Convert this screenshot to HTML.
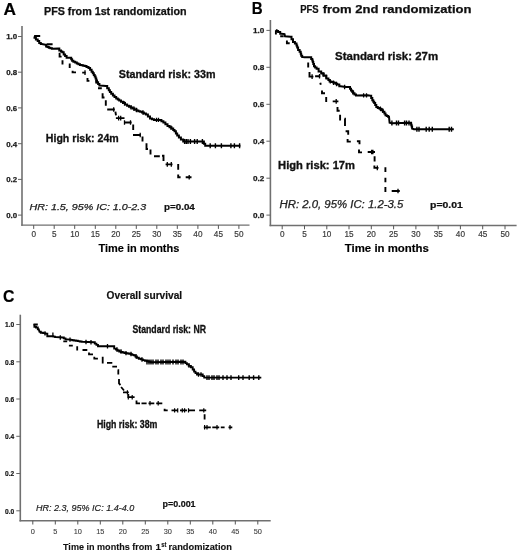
<!DOCTYPE html>
<html><head><meta charset="utf-8"><style>
html,body{margin:0;padding:0;background:#fff;}
svg{display:block;font-family:"Liberation Sans",sans-serif;will-change:transform;}
</style></head><body>
<svg width="520" height="554" viewBox="0 0 520 554">
<rect width="520" height="554" fill="#fff"/>
<line x1="22" y1="26" x2="22" y2="225.8" stroke="#707070" stroke-width="1.6"/>
<line x1="21.2" y1="225.1" x2="249.5" y2="225.1" stroke="#707070" stroke-width="1.4"/>
<line x1="18" y1="36.5" x2="22" y2="36.5" stroke="#666" stroke-width="1.0"/>
<text x="17.2" y="39.4" font-size="8.0" font-weight="bold" fill="#1a1a1a" text-anchor="end" textLength="11" lengthAdjust="spacingAndGlyphs" stroke="#1a1a1a" stroke-width="0.25">1.0</text>
<line x1="18" y1="72.2" x2="22" y2="72.2" stroke="#666" stroke-width="1.0"/>
<text x="17.2" y="75.1" font-size="8.0" font-weight="bold" fill="#1a1a1a" text-anchor="end" textLength="11" lengthAdjust="spacingAndGlyphs" stroke="#1a1a1a" stroke-width="0.25">0.8</text>
<line x1="18" y1="107.9" x2="22" y2="107.9" stroke="#666" stroke-width="1.0"/>
<text x="17.2" y="110.8" font-size="8.0" font-weight="bold" fill="#1a1a1a" text-anchor="end" textLength="11" lengthAdjust="spacingAndGlyphs" stroke="#1a1a1a" stroke-width="0.25">0.6</text>
<line x1="18" y1="143.7" x2="22" y2="143.7" stroke="#666" stroke-width="1.0"/>
<text x="17.2" y="146.5" font-size="8.0" font-weight="bold" fill="#1a1a1a" text-anchor="end" textLength="11" lengthAdjust="spacingAndGlyphs" stroke="#1a1a1a" stroke-width="0.25">0.4</text>
<line x1="18" y1="179.4" x2="22" y2="179.4" stroke="#666" stroke-width="1.0"/>
<text x="17.2" y="182.3" font-size="8.0" font-weight="bold" fill="#1a1a1a" text-anchor="end" textLength="11" lengthAdjust="spacingAndGlyphs" stroke="#1a1a1a" stroke-width="0.25">0.2</text>
<line x1="18" y1="215.1" x2="22" y2="215.1" stroke="#666" stroke-width="1.0"/>
<text x="17.2" y="218" font-size="8.0" font-weight="bold" fill="#1a1a1a" text-anchor="end" textLength="11" lengthAdjust="spacingAndGlyphs" stroke="#1a1a1a" stroke-width="0.25">0.0</text>
<line x1="33.7" y1="225.1" x2="33.7" y2="228.9" stroke="#555" stroke-width="1.0"/>
<text x="33.7" y="237.4" font-size="8.2" font-weight="normal" fill="#3a3a3a" text-anchor="middle" stroke="#3a3a3a" stroke-width="0.18">0</text>
<line x1="54.2" y1="225.1" x2="54.2" y2="228.9" stroke="#555" stroke-width="1.0"/>
<text x="54.2" y="237.4" font-size="8.2" font-weight="normal" fill="#3a3a3a" text-anchor="middle" stroke="#3a3a3a" stroke-width="0.18">5</text>
<line x1="74.7" y1="225.1" x2="74.7" y2="228.9" stroke="#555" stroke-width="1.0"/>
<text x="74.7" y="237.4" font-size="8.2" font-weight="normal" fill="#3a3a3a" text-anchor="middle" stroke="#3a3a3a" stroke-width="0.18">10</text>
<line x1="95.3" y1="225.1" x2="95.3" y2="228.9" stroke="#555" stroke-width="1.0"/>
<text x="95.3" y="237.4" font-size="8.2" font-weight="normal" fill="#3a3a3a" text-anchor="middle" stroke="#3a3a3a" stroke-width="0.18">15</text>
<line x1="115.8" y1="225.1" x2="115.8" y2="228.9" stroke="#555" stroke-width="1.0"/>
<text x="115.8" y="237.4" font-size="8.2" font-weight="normal" fill="#3a3a3a" text-anchor="middle" stroke="#3a3a3a" stroke-width="0.18">20</text>
<line x1="136.3" y1="225.1" x2="136.3" y2="228.9" stroke="#555" stroke-width="1.0"/>
<text x="136.3" y="237.4" font-size="8.2" font-weight="normal" fill="#3a3a3a" text-anchor="middle" stroke="#3a3a3a" stroke-width="0.18">25</text>
<line x1="156.8" y1="225.1" x2="156.8" y2="228.9" stroke="#555" stroke-width="1.0"/>
<text x="156.8" y="237.4" font-size="8.2" font-weight="normal" fill="#3a3a3a" text-anchor="middle" stroke="#3a3a3a" stroke-width="0.18">30</text>
<line x1="177.3" y1="225.1" x2="177.3" y2="228.9" stroke="#555" stroke-width="1.0"/>
<text x="177.3" y="237.4" font-size="8.2" font-weight="normal" fill="#3a3a3a" text-anchor="middle" stroke="#3a3a3a" stroke-width="0.18">35</text>
<line x1="197.9" y1="225.1" x2="197.9" y2="228.9" stroke="#555" stroke-width="1.0"/>
<text x="197.9" y="237.4" font-size="8.2" font-weight="normal" fill="#3a3a3a" text-anchor="middle" stroke="#3a3a3a" stroke-width="0.18">40</text>
<line x1="218.4" y1="225.1" x2="218.4" y2="228.9" stroke="#555" stroke-width="1.0"/>
<text x="218.4" y="237.4" font-size="8.2" font-weight="normal" fill="#3a3a3a" text-anchor="middle" stroke="#3a3a3a" stroke-width="0.18">45</text>
<line x1="238.9" y1="225.1" x2="238.9" y2="228.9" stroke="#555" stroke-width="1.0"/>
<text x="238.9" y="237.4" font-size="8.2" font-weight="normal" fill="#3a3a3a" text-anchor="middle" stroke="#3a3a3a" stroke-width="0.18">50</text>
<line x1="270.4" y1="20" x2="270.4" y2="226.2" stroke="#707070" stroke-width="1.6"/>
<line x1="269.6" y1="225.5" x2="516.6" y2="225.5" stroke="#707070" stroke-width="1.4"/>
<line x1="266.4" y1="30.4" x2="270.4" y2="30.4" stroke="#666" stroke-width="1.0"/>
<text x="264.2" y="33.3" font-size="8.0" font-weight="bold" fill="#1a1a1a" text-anchor="end" textLength="11.3" lengthAdjust="spacingAndGlyphs" stroke="#1a1a1a" stroke-width="0.25">1.0</text>
<line x1="266.4" y1="67.3" x2="270.4" y2="67.3" stroke="#666" stroke-width="1.0"/>
<text x="264.2" y="70.2" font-size="8.0" font-weight="bold" fill="#1a1a1a" text-anchor="end" textLength="11.3" lengthAdjust="spacingAndGlyphs" stroke="#1a1a1a" stroke-width="0.25">0.8</text>
<line x1="266.4" y1="104.3" x2="270.4" y2="104.3" stroke="#666" stroke-width="1.0"/>
<text x="264.2" y="107.2" font-size="8.0" font-weight="bold" fill="#1a1a1a" text-anchor="end" textLength="11.3" lengthAdjust="spacingAndGlyphs" stroke="#1a1a1a" stroke-width="0.25">0.6</text>
<line x1="266.4" y1="141.2" x2="270.4" y2="141.2" stroke="#666" stroke-width="1.0"/>
<text x="264.2" y="144.1" font-size="8.0" font-weight="bold" fill="#1a1a1a" text-anchor="end" textLength="11.3" lengthAdjust="spacingAndGlyphs" stroke="#1a1a1a" stroke-width="0.25">0.4</text>
<line x1="266.4" y1="178.2" x2="270.4" y2="178.2" stroke="#666" stroke-width="1.0"/>
<text x="264.2" y="181" font-size="8.0" font-weight="bold" fill="#1a1a1a" text-anchor="end" textLength="11.3" lengthAdjust="spacingAndGlyphs" stroke="#1a1a1a" stroke-width="0.25">0.2</text>
<line x1="266.4" y1="215.1" x2="270.4" y2="215.1" stroke="#666" stroke-width="1.0"/>
<text x="264.2" y="218" font-size="8.0" font-weight="bold" fill="#1a1a1a" text-anchor="end" textLength="11.3" lengthAdjust="spacingAndGlyphs" stroke="#1a1a1a" stroke-width="0.25">0.0</text>
<line x1="282.2" y1="225.5" x2="282.2" y2="229.3" stroke="#555" stroke-width="1.0"/>
<text x="282.2" y="237.3" font-size="8.2" font-weight="normal" fill="#3a3a3a" text-anchor="middle" stroke="#3a3a3a" stroke-width="0.18">0</text>
<line x1="304.5" y1="225.5" x2="304.5" y2="229.3" stroke="#555" stroke-width="1.0"/>
<text x="304.5" y="237.3" font-size="8.2" font-weight="normal" fill="#3a3a3a" text-anchor="middle" stroke="#3a3a3a" stroke-width="0.18">5</text>
<line x1="326.8" y1="225.5" x2="326.8" y2="229.3" stroke="#555" stroke-width="1.0"/>
<text x="326.8" y="237.3" font-size="8.2" font-weight="normal" fill="#3a3a3a" text-anchor="middle" stroke="#3a3a3a" stroke-width="0.18">10</text>
<line x1="349" y1="225.5" x2="349" y2="229.3" stroke="#555" stroke-width="1.0"/>
<text x="349" y="237.3" font-size="8.2" font-weight="normal" fill="#3a3a3a" text-anchor="middle" stroke="#3a3a3a" stroke-width="0.18">15</text>
<line x1="371.3" y1="225.5" x2="371.3" y2="229.3" stroke="#555" stroke-width="1.0"/>
<text x="371.3" y="237.3" font-size="8.2" font-weight="normal" fill="#3a3a3a" text-anchor="middle" stroke="#3a3a3a" stroke-width="0.18">20</text>
<line x1="393.6" y1="225.5" x2="393.6" y2="229.3" stroke="#555" stroke-width="1.0"/>
<text x="393.6" y="237.3" font-size="8.2" font-weight="normal" fill="#3a3a3a" text-anchor="middle" stroke="#3a3a3a" stroke-width="0.18">25</text>
<line x1="415.9" y1="225.5" x2="415.9" y2="229.3" stroke="#555" stroke-width="1.0"/>
<text x="415.9" y="237.3" font-size="8.2" font-weight="normal" fill="#3a3a3a" text-anchor="middle" stroke="#3a3a3a" stroke-width="0.18">30</text>
<line x1="438.2" y1="225.5" x2="438.2" y2="229.3" stroke="#555" stroke-width="1.0"/>
<text x="438.2" y="237.3" font-size="8.2" font-weight="normal" fill="#3a3a3a" text-anchor="middle" stroke="#3a3a3a" stroke-width="0.18">35</text>
<line x1="460.4" y1="225.5" x2="460.4" y2="229.3" stroke="#555" stroke-width="1.0"/>
<text x="460.4" y="237.3" font-size="8.2" font-weight="normal" fill="#3a3a3a" text-anchor="middle" stroke="#3a3a3a" stroke-width="0.18">40</text>
<line x1="482.7" y1="225.5" x2="482.7" y2="229.3" stroke="#555" stroke-width="1.0"/>
<text x="482.7" y="237.3" font-size="8.2" font-weight="normal" fill="#3a3a3a" text-anchor="middle" stroke="#3a3a3a" stroke-width="0.18">45</text>
<line x1="505" y1="225.5" x2="505" y2="229.3" stroke="#555" stroke-width="1.0"/>
<text x="505" y="237.3" font-size="8.2" font-weight="normal" fill="#3a3a3a" text-anchor="middle" stroke="#3a3a3a" stroke-width="0.18">50</text>
<line x1="20.3" y1="314.7" x2="20.3" y2="521.4" stroke="#707070" stroke-width="1.6"/>
<line x1="19.5" y1="520.7" x2="270.7" y2="520.7" stroke="#707070" stroke-width="1.4"/>
<line x1="16.3" y1="324.5" x2="20.3" y2="324.5" stroke="#666" stroke-width="1.0"/>
<text x="14.3" y="327.2" font-size="7.5" font-weight="bold" fill="#111" text-anchor="end" textLength="9.2" lengthAdjust="spacingAndGlyphs" stroke="#111" stroke-width="0.2">1.0</text>
<line x1="16.3" y1="361.8" x2="20.3" y2="361.8" stroke="#666" stroke-width="1.0"/>
<text x="14.3" y="364.5" font-size="7.5" font-weight="bold" fill="#111" text-anchor="end" textLength="9.2" lengthAdjust="spacingAndGlyphs" stroke="#111" stroke-width="0.2">0.8</text>
<line x1="16.3" y1="399" x2="20.3" y2="399" stroke="#666" stroke-width="1.0"/>
<text x="14.3" y="401.7" font-size="7.5" font-weight="bold" fill="#111" text-anchor="end" textLength="9.2" lengthAdjust="spacingAndGlyphs" stroke="#111" stroke-width="0.2">0.6</text>
<line x1="16.3" y1="436.3" x2="20.3" y2="436.3" stroke="#666" stroke-width="1.0"/>
<text x="14.3" y="439" font-size="7.5" font-weight="bold" fill="#111" text-anchor="end" textLength="9.2" lengthAdjust="spacingAndGlyphs" stroke="#111" stroke-width="0.2">0.4</text>
<line x1="16.3" y1="473.5" x2="20.3" y2="473.5" stroke="#666" stroke-width="1.0"/>
<text x="14.3" y="476.2" font-size="7.5" font-weight="bold" fill="#111" text-anchor="end" textLength="9.2" lengthAdjust="spacingAndGlyphs" stroke="#111" stroke-width="0.2">0.2</text>
<line x1="16.3" y1="510.8" x2="20.3" y2="510.8" stroke="#666" stroke-width="1.0"/>
<text x="14.3" y="513.5" font-size="7.5" font-weight="bold" fill="#111" text-anchor="end" textLength="9.2" lengthAdjust="spacingAndGlyphs" stroke="#111" stroke-width="0.2">0.0</text>
<line x1="32.8" y1="520.7" x2="32.8" y2="524.5" stroke="#555" stroke-width="1.0"/>
<text x="32.8" y="533.6" font-size="7.4" font-weight="normal" fill="#3a3a3a" text-anchor="middle" stroke="#3a3a3a" stroke-width="0.08">0</text>
<line x1="55.3" y1="520.7" x2="55.3" y2="524.5" stroke="#555" stroke-width="1.0"/>
<text x="55.3" y="533.6" font-size="7.4" font-weight="normal" fill="#3a3a3a" text-anchor="middle" stroke="#3a3a3a" stroke-width="0.08">5</text>
<line x1="77.8" y1="520.7" x2="77.8" y2="524.5" stroke="#555" stroke-width="1.0"/>
<text x="77.8" y="533.6" font-size="7.4" font-weight="normal" fill="#3a3a3a" text-anchor="middle" stroke="#3a3a3a" stroke-width="0.08">10</text>
<line x1="100.3" y1="520.7" x2="100.3" y2="524.5" stroke="#555" stroke-width="1.0"/>
<text x="100.3" y="533.6" font-size="7.4" font-weight="normal" fill="#3a3a3a" text-anchor="middle" stroke="#3a3a3a" stroke-width="0.08">15</text>
<line x1="122.8" y1="520.7" x2="122.8" y2="524.5" stroke="#555" stroke-width="1.0"/>
<text x="122.8" y="533.6" font-size="7.4" font-weight="normal" fill="#3a3a3a" text-anchor="middle" stroke="#3a3a3a" stroke-width="0.08">20</text>
<line x1="145.3" y1="520.7" x2="145.3" y2="524.5" stroke="#555" stroke-width="1.0"/>
<text x="145.3" y="533.6" font-size="7.4" font-weight="normal" fill="#3a3a3a" text-anchor="middle" stroke="#3a3a3a" stroke-width="0.08">25</text>
<line x1="167.8" y1="520.7" x2="167.8" y2="524.5" stroke="#555" stroke-width="1.0"/>
<text x="167.8" y="533.6" font-size="7.4" font-weight="normal" fill="#3a3a3a" text-anchor="middle" stroke="#3a3a3a" stroke-width="0.08">30</text>
<line x1="190.3" y1="520.7" x2="190.3" y2="524.5" stroke="#555" stroke-width="1.0"/>
<text x="190.3" y="533.6" font-size="7.4" font-weight="normal" fill="#3a3a3a" text-anchor="middle" stroke="#3a3a3a" stroke-width="0.08">35</text>
<line x1="212.8" y1="520.7" x2="212.8" y2="524.5" stroke="#555" stroke-width="1.0"/>
<text x="212.8" y="533.6" font-size="7.4" font-weight="normal" fill="#3a3a3a" text-anchor="middle" stroke="#3a3a3a" stroke-width="0.08">40</text>
<line x1="235.3" y1="520.7" x2="235.3" y2="524.5" stroke="#555" stroke-width="1.0"/>
<text x="235.3" y="533.6" font-size="7.4" font-weight="normal" fill="#3a3a3a" text-anchor="middle" stroke="#3a3a3a" stroke-width="0.08">45</text>
<line x1="257.8" y1="520.7" x2="257.8" y2="524.5" stroke="#555" stroke-width="1.0"/>
<text x="257.8" y="533.6" font-size="7.4" font-weight="normal" fill="#3a3a3a" text-anchor="middle" stroke="#3a3a3a" stroke-width="0.08">50</text>
<text x="3.4" y="14.6" font-size="17.3" font-weight="bold" fill="#000" textLength="12.5" lengthAdjust="spacingAndGlyphs" stroke="#000" stroke-width="0.2">A</text>
<text x="251.8" y="14" font-size="17.0" font-weight="bold" fill="#000" textLength="10.9" lengthAdjust="spacingAndGlyphs" stroke="#000" stroke-width="0.2">B</text>
<text x="2.9" y="302.2" font-size="16.8" font-weight="bold" fill="#000" textLength="11.4" lengthAdjust="spacingAndGlyphs" stroke="#000" stroke-width="0.2">C</text>
<text x="44" y="15.4" font-size="10.3" font-weight="bold" fill="#111" textLength="142.5" lengthAdjust="spacingAndGlyphs" stroke="#111" stroke-width="0.25">PFS from 1st randomization</text>
<text x="300.2" y="13" font-size="10.3" font-weight="bold" fill="#111" textLength="18.5" lengthAdjust="spacingAndGlyphs" stroke="#111" stroke-width="0.2">PFS</text>
<text x="322.7" y="13" font-size="10.6" font-weight="bold" fill="#111" textLength="148.8" lengthAdjust="spacingAndGlyphs" stroke="#111" stroke-width="0.25">from 2nd randomization</text>
<text x="106.6" y="299.4" font-size="10.8" font-weight="bold" fill="#111" textLength="75.6" lengthAdjust="spacingAndGlyphs" stroke="#111" stroke-width="0.2">Overall survival</text>
<text x="118.8" y="78" font-size="11.3" font-weight="bold" fill="#111" textLength="96.7" lengthAdjust="spacingAndGlyphs" stroke="#111" stroke-width="0.3">Standard risk: 33m</text>
<text x="45.8" y="141.8" font-size="10.9" font-weight="bold" fill="#111" textLength="73" lengthAdjust="spacingAndGlyphs" stroke="#111" stroke-width="0.3">High risk: 24m</text>
<text x="29.5" y="209.8" font-size="9.4" font-weight="normal" fill="#222" font-style="italic" textLength="116.7" lengthAdjust="spacingAndGlyphs" stroke="#222" stroke-width="0.25">HR: 1.5, 95% IC: 1.0-2.3</text>
<text x="164" y="210.4" font-size="8.2" font-weight="bold" fill="#111" textLength="30.8" lengthAdjust="spacingAndGlyphs" stroke="#111" stroke-width="0.2">p=0.04</text>
<text x="98.5" y="252.2" font-size="10.8" font-weight="bold" fill="#000" textLength="80.8" lengthAdjust="spacingAndGlyphs" stroke="#000" stroke-width="0.15">Time in months</text>
<text x="335.1" y="60" font-size="10.8" font-weight="bold" fill="#111" textLength="103" lengthAdjust="spacingAndGlyphs" stroke="#111" stroke-width="0.3">Standard risk: 27m</text>
<text x="278.1" y="169" font-size="10.0" font-weight="bold" fill="#111" textLength="76.9" lengthAdjust="spacingAndGlyphs" stroke="#111" stroke-width="0.3">High risk: 17m</text>
<text x="279.5" y="208.4" font-size="10.0" font-weight="normal" fill="#222" font-style="italic" textLength="123.8" lengthAdjust="spacingAndGlyphs" stroke="#222" stroke-width="0.25">HR: 2.0, 95% IC: 1.2-3.5</text>
<text x="430" y="207.8" font-size="8.2" font-weight="bold" fill="#111" textLength="32.8" lengthAdjust="spacingAndGlyphs" stroke="#111" stroke-width="0.2">p=0.01</text>
<text x="344.8" y="251.8" font-size="10.8" font-weight="bold" fill="#000" textLength="84.1" lengthAdjust="spacingAndGlyphs" stroke="#000" stroke-width="0.15">Time in months</text>
<text x="132.5" y="333" font-size="10.0" font-weight="bold" fill="#111" textLength="73.5" lengthAdjust="spacingAndGlyphs" stroke="#111" stroke-width="0.3">Standard risk: NR</text>
<text x="96.9" y="428.1" font-size="10.0" font-weight="bold" fill="#111" textLength="60.5" lengthAdjust="spacingAndGlyphs" stroke="#111" stroke-width="0.3">High risk: 38m</text>
<text x="36" y="510.6" font-size="9.6" font-weight="normal" fill="#222" font-style="italic" textLength="98.2" lengthAdjust="spacingAndGlyphs" stroke="#222" stroke-width="0.2">HR: 2.3, 95% IC: 1.4-4.0</text>
<text x="162.5" y="506.6" font-size="8.6" font-weight="bold" fill="#111" textLength="33.1" lengthAdjust="spacingAndGlyphs" stroke="#111" stroke-width="0.2">p=0.001</text>
<text x="63" y="549.7" font-size="9.9" font-weight="bold" fill="#111" textLength="89.4" lengthAdjust="spacingAndGlyphs" stroke="#111" stroke-width="0.12">Time in months from</text>
<text x="155.4" y="549.7" font-size="9.9" font-weight="bold" fill="#111" stroke="#111" stroke-width="0.12">1</text>
<text x="161.2" y="546.8" font-size="7.0" font-weight="bold" fill="#111" textLength="5.2" lengthAdjust="spacingAndGlyphs" stroke="#111" stroke-width="0.1">st</text>
<text x="168.4" y="549.7" font-size="9.9" font-weight="bold" fill="#111" textLength="63.5" lengthAdjust="spacingAndGlyphs" stroke="#111" stroke-width="0.12">randomization</text>
<polyline points="34,36.4 34.5,36.4 34.5,37.7 35,37.7 35.9,37.7 35.9,39.4 36.7,39.4 37.7,39.4 37.7,41.1 38.7,41.1 39.2,41.1 39.2,43.1 39.8,43.1 40.8,43.1 40.8,44.1 41.8,44.1 45.5,44.8 46.1,44.8 46.1,46.5 46.8,46.5 47.5,46.5 47.5,47.1 48.8,47.1 48.8,47.8 49.5,47.8 50.4,47.8 50.4,48.3 52,48.3 52,48.8 52.9,48.8 58.3,48.5 59.3,48.5 59.3,50.5 60.3,50.5 61,50.5 61,51.4 62.3,51.4 62.3,52.2 63,52.2 63.7,52.2 63.7,54.4 64.4,54.4 65.1,54.4 65.1,56.1 66.6,56.1 66.6,57.8 67.3,57.8 70.7,57.8 71.2,57.8 71.2,59.2 72.1,59.2 72.1,60.7 72.6,60.7 73.4,60.7 73.4,61.7 75.2,61.7 75.2,62.6 76,62.6 76.8,62.6 76.8,63.4 78.4,63.4 78.4,64.2 80,64.2 80,65 80.8,65 81.6,65 81.6,65.3 83.2,65.3 83.2,65.7 84.8,65.7 84.8,66 85.6,66 86.5,66 86.5,67 88.5,67 88.5,67.9 89.4,67.9 90.1,67.9 90.1,69.8 91.6,69.8 91.6,71.7 92.3,71.7 92.8,71.7 92.8,73.3 93.8,73.3 93.8,74.9 94.7,74.9 94.7,76.5 95.2,76.5 95.6,76.5 95.6,78.4 96.3,78.4 96.3,80.4 97,80.4 97,82.3 97.4,82.3 98.1,82.3 98.1,83.9 99.4,83.9 99.4,85.6 100.1,85.6 106.1,86.1 107.2,86.1 107.2,88.3 108.3,88.3 108.8,88.3 108.8,90.2 109.9,90.2 109.9,92.1 110.4,92.1 111.2,92.1 111.2,93.8 112.9,93.8 112.9,95.4 113.7,95.4 114.5,95.4 114.5,97 116.2,97 116.2,98.6 117,98.6 117.8,98.6 117.8,99.5 119.2,99.5 119.2,100.4 120,100.4 121,100.4 121,101.8 123,101.8 123,103.1 124,103.1 125,103.1 125,104.4 127.1,104.4 127.1,105.8 128.1,105.8 129,105.8 129,106.7 130.8,106.7 130.8,107.6 132.6,107.6 132.6,108.5 133.5,108.5 134.5,108.5 134.5,109.5 136.5,109.5 136.5,110.5 137.5,110.5 138.4,110.5 138.4,111.2 140.2,111.2 140.2,111.8 142,111.8 142,112.5 142.9,112.5 143.9,112.5 143.9,113.5 145.9,113.5 145.9,114.5 146.9,114.5 147.9,114.5 147.9,116.5 150,116.5 150,118.6 151,118.6 152,118.6 152,119.2 154,119.2 154,119.9 155,119.9 160.4,119.9 161.4,119.9 161.4,121.2 163.4,121.2 163.4,122.6 164.4,122.6 165.4,122.6 165.4,124.3 167.5,124.3 167.5,126 168.5,126 169.5,126 169.5,127.3 171.5,127.3 171.5,128.6 172.5,128.6 173.2,128.6 173.2,129.9 174.5,129.9 174.5,131.3 175.2,131.3 175.9,131.3 175.9,133.4 177.2,133.4 177.2,135.4 177.9,135.4 178.9,135.4 178.9,137.4 180.9,137.4 180.9,139.4 181.9,139.4 183.2,139.4 183.2,141.5 184.6,141.5 203.3,141.5 203.9,141.5 203.9,143.7 205.2,143.7 205.2,145.8 205.8,145.8 240.4,145.8" fill="none" stroke="#000" stroke-width="2.0" stroke-linejoin="miter" stroke-miterlimit="2"/>
<path d="M131,105.1v4.4M134,106.5v4.4M136.5,107.8v4.4M156.5,117.7v4.4M158.5,117.7v4.4M171,125.4v4.4M124.5,101.2v4.4M143,110.3v4.4" stroke="#000" stroke-width="1.3" fill="none"/>
<path d="M184.6,139v5M186.3,139v5M188,139v5M190.4,139v5M194.6,139v5M197.2,139v5M202.4,139v5" stroke="#000" stroke-width="1.4" fill="none"/>
<path d="M210.2,143.3v5M215.4,143.3v5M221.4,143.3v5M230.9,143.3v5M234.4,143.3v5M239.6,143.3v5" stroke="#000" stroke-width="1.4" fill="none"/>
<path d="M34.2,36 L40.2,36 M46.8,44.2 L52.6,44.2 M59.6,52.8 L59.6,56.6 L61.6,56.6 M62.5,60.2 L62.5,64.5 M68.8,64.5 L69.7,64.5 L69.7,68 M72.6,70.7 L72.6,72.4 L76,72.4 M82.2,72.6 L85.6,72.6 M87.5,78 L87.5,80.9 L89.4,80.9 M96.2,80.2 L96.2,83.6 M98,88.3 L101.8,88.3 M102.6,93.2 L102.6,97.5 L104.5,97.5 M105.8,100.2 L105.8,105.7 M107.2,109.5 L114.8,109.5 M115.4,111.6 L116,115.4 M115.9,118.1 L124.5,118.1 M124,122.5 L131.6,122.5 M133.2,124.6 L133.2,130.1 M133,135 L140.8,135 M142.5,136.5 L142.5,141.5 M146.5,143.3 L146.5,149 L148,149 M150.5,149.5 L150.5,154.5 M154,156.3 L159.8,156.3 M162,155.8 L163.5,155.8 L163.5,161 M165.6,164.4 L172.5,164.4 M178.2,164 L178.2,169.8 M178.2,174.4 L178.2,177.3 L180.6,177.3 M185.7,177.3 L191.5,177.3" fill="none" stroke="#000" stroke-width="1.9" stroke-linejoin="miter" stroke-linecap="butt"/>
<path d="M85,70.3v4.6M113.7,107.2v4.6M118.6,115.8v4.6M120.7,115.8v4.6M124.5,120.2v4.6M130.5,120.2v4.6M140.2,132.7v4.6M167.3,162.1v4.6M171.3,162.1v4.6M189.2,175v4.6" stroke="#000" stroke-width="1.3" fill="none"/>
<polyline points="275.9,30.2 276.6,30.2 276.6,31 278.1,31 278.1,31.9 278.9,31.9 280.2,31.9 280.2,33.7 281.5,33.7 284.5,34.1 285,36.2 290.6,36.7 291.5,36.7 291.5,39.3 292.3,39.3 293,39.3 293,41.9 293.6,41.9 294.9,41.9 294.9,43.6 296.2,43.6 296.5,43.6 296.5,45.5 297.2,45.5 297.2,47.5 297.5,47.5 298.1,47.5 298.1,50.1 298.8,50.1 299.6,50.1 299.6,51.8 300.5,51.8 300.7,51.8 300.7,53.8 301.2,53.8 301.2,55.7 301.4,55.7 302.2,55.7 302.2,57 303.1,57 304.3,57.2 310.4,57.2 311.2,57.2 311.2,58.9 312.1,58.9 312.3,58.9 312.3,60.4 312.8,60.4 312.8,61.9 313,61.9 313.3,61.9 313.3,64 314,64 314,66.2 314.3,66.2 315.1,66.2 315.1,67.5 316.6,67.5 316.6,68.8 317.3,68.8 318.6,68.8 318.6,71.4 319.9,71.4 321.2,71.4 321.2,73.6 322.5,73.6 323.8,73.6 323.8,75.8 325.1,75.8 326.4,75.8 326.4,78.4 327.7,78.4 328.4,78.4 328.4,79.9 329.6,79.9 329.6,81.4 330.3,81.4 331.4,81.4 331.4,82.1 333.5,82.1 333.5,82.7 334.6,82.7 335.5,82.7 335.5,83.7 337.2,83.7 337.2,84.6 338.1,84.6 339.3,84.6 339.3,86.3 340.5,86.3 346,87 349.5,87 350,87 350,88.7 351,88.7 351,90.4 351.5,90.4 352.1,90.4 352.1,91.8 353.2,91.8 353.2,93.3 353.8,93.3 354.5,93.3 354.5,94.4 356,94.4 356,95.6 356.7,95.6 367.7,95.3 370.6,95.8 371.2,95.8 371.2,98 372.3,98 372.3,100.2 372.9,100.2 373.3,100.2 373.3,101.7 374.2,101.7 374.2,103.1 374.6,103.1 375.2,103.1 375.2,105.1 376.3,105.1 376.3,107.1 376.9,107.1 377.8,107.1 377.8,107.9 379.5,107.9 379.5,108.8 380.4,108.8 381.2,108.8 381.2,110.2 382.9,110.2 382.9,111.7 383.8,111.7 384.4,111.7 384.4,113.5 385.5,113.5 385.5,115.2 386.1,115.2 386.8,115.2 386.8,116.1 388.3,116.1 388.3,116.9 389,116.9 389.6,122.7 391.9,123.2 410.8,122.8 411.1,122.8 411.1,124.7 411.6,124.7 411.6,126.6 412.1,126.6 412.1,128.5 412.3,128.5 413.8,129.2 453.8,129.2" fill="none" stroke="#000" stroke-width="2.0" stroke-linejoin="miter" stroke-miterlimit="2"/>
<path d="M391.9,120.4v5M396.5,120.4v5M398.5,120.4v5M404.6,120.4v5M406.5,120.4v5M409,120.4v5" stroke="#000" stroke-width="1.4" fill="none"/>
<path d="M344.6,84.8v4.4M363.6,93.2v4.4M366.5,93.2v4.4M380.4,106.6v4.4M382.7,108.3v4.4M353,90.1v4.4M330.3,79.2v4.4M333.5,80.5v4.4M336.5,81.8v4.4M323,72.1v4.4M326,74.4v4.4" stroke="#000" stroke-width="1.3" fill="none"/>
<path d="M416.9,126.7v5M419,126.7v5M426.2,126.7v5M429.2,126.7v5M432.3,126.7v5M449.2,126.7v5M451.5,126.7v5" stroke="#000" stroke-width="1.4" fill="none"/>
<path d="M275.9,30.2 L275.9,34.5 M280.2,36.2 L283.7,36.2 M286.9,40.6 L286.9,43.2 L289.7,43.2 M308.2,62.5 L308.2,67.5 M309.5,71.9 L309.5,76.6 L313.4,76.6 M315.1,76.3 L320.3,76.3 M320.3,82.7 L320.8,84.8 M322,90.5 L322,93.3 L325,93.3 M326.2,97.1 L326.2,101.9 M332.7,101.4 L338.4,101.4 M337.5,107 L337.5,110.7 L339.7,110.7 M340.1,114.8 L340.1,120.5 M344.5,118.7 L345,118.7 L345,126.1 M345.6,131.2 L348.2,131.2 L348.2,134.7 M347.6,139 L347.6,141.6 L350.8,141.6 M356.9,141.2 L359.5,141.2 L359.5,144.2 M359,149.4 L359,152.4 L362,152.4 M367.7,152 L375,152 M374.6,156.3 L374.6,161.5 M374.4,165.5 L374.4,167.9 L378.5,167.9 M385.4,167.3 L385.4,172 M385.4,177.7 L385.4,182.3 M385.4,187 L385.4,192 M391.7,191 L399.8,191" fill="none" stroke="#000" stroke-width="1.9" stroke-linejoin="miter" stroke-linecap="butt"/>
<path d="M312.1,74.3v4.6M319.5,74v4.6M336.2,99.1v4.6M371.6,149.7v4.6M372.9,149.7v4.6M377.3,165.6v4.6M398,188.7v4.6" stroke="#000" stroke-width="1.3" fill="none"/>
<polyline points="33.5,324.9 34.4,324.9 34.4,326.7 35.2,326.7 36,326.7 36,327.5 36.9,327.5 37.8,327.5 37.8,329.2 38.7,329.2 39.5,331.8 40.8,331.8 40.8,332.7 42.1,332.7 43.2,332.7 43.2,333.1 45.3,333.1 45.3,333.6 46.4,333.6 47.3,333.6 47.3,336.2 48.2,336.2 52.5,336.2 53.4,336.2 53.4,336.6 55.1,336.6 55.1,337 56,337 62.9,337.5 63.8,337.5 63.8,338.4 65.5,338.4 65.5,339.2 66.3,339.2 69.8,339.6 70.7,339.6 70.7,339.9 72.4,339.9 72.4,340.2 74.1,340.2 74.1,340.5 75,340.5 75.9,340.5 75.9,340.8 77.8,340.8 77.8,341.1 79.7,341.1 79.7,341.5 81.6,341.5 81.6,341.8 82.5,341.8 94,342.3 94.8,342.3 94.8,343.6 96.4,343.6 96.4,344.9 98,344.9 98,346.2 98.8,346.2 113.3,346.2 114.2,346.2 114.2,348.6 115.2,348.6 116,348.6 116,349.6 117.6,349.6 117.6,350.5 119.2,350.5 119.2,351.5 120,351.5 120.9,351.5 120.9,352 122.7,352 122.7,352.5 124.5,352.5 124.5,353 125.4,353 126.2,353 126.2,353.3 127.7,353.3 127.7,353.5 129.2,353.5 129.2,353.8 130,353.8 130.8,353.8 130.8,354.3 132.3,354.3 132.3,354.9 133.8,354.9 133.8,355.4 134.6,355.4 135.4,355.4 135.4,356.5 136.9,356.5 136.9,357.7 137.7,357.7 138.8,357.7 138.8,358.7 140,358.7 141,358.7 141,359.4 142.9,359.4 142.9,360.1 144.8,360.1 144.8,360.8 145.8,360.8 146.8,360.8 146.8,361.3 148.7,361.3 148.7,361.8 150.6,361.8 150.6,362.3 151.5,362.3 184.7,361.8 185.4,361.8 185.4,363.1 186.9,363.1 186.9,364.4 187.6,364.4 188.7,364.4 188.7,365.9 190.9,365.9 190.9,367.3 192,367.3 192.7,367.3 192.7,369.5 194.1,369.5 194.1,371.6 194.8,371.6 195.5,371.6 195.5,373.1 197,373.1 197,374.5 197.7,374.5 202,374.5 202.7,374.5 202.7,376.1 204.2,376.1 204.2,377.6 204.9,377.6 261.3,377.6" fill="none" stroke="#000" stroke-width="1.9" stroke-linejoin="miter" stroke-miterlimit="2"/>
<path d="M52.9,332.5v4.6M107.5,343.9v4.6M60.3,335.2v4.6" stroke="#000" stroke-width="1.3" fill="none"/>
<path d="M147,359.6v4.8M149,359.6v4.8M151,359.6v4.8M153,359.6v4.8M156,359.6v4.8M158,359.6v4.8M161,359.6v4.8M163,359.6v4.8M166,359.6v4.8M168,359.6v4.8M170,359.6v4.8M173,359.6v4.8M176,359.6v4.8M178,359.6v4.8M181,359.6v4.8M183,359.6v4.8" stroke="#000" stroke-width="1.4" fill="none"/>
<path d="M207,375.2v4.8M209,375.2v4.8M212,375.2v4.8M214,375.2v4.8M217,375.2v4.8M219,375.2v4.8M223,375.2v4.8M227,375.2v4.8M231,375.2v4.8M238.7,375.2v4.8M243,375.2v4.8M249.2,375.2v4.8M253.6,375.2v4.8M258.8,375.2v4.8" stroke="#000" stroke-width="1.4" fill="none"/>
<path d="M198.5,372.3v4.4M201,372.3v4.4M189,363.3v4.4M117,347.3v4.4M121,349.3v4.4M126,350.9v4.4M131,351.8v4.4M136,354.1v4.4M142,357.3v4.4M86,339.8v4.4M91,340.1v4.4M70,337.4v4.4M45,331.2v4.4" stroke="#000" stroke-width="1.3" fill="none"/>
<path d="M33.5,324.5 L37.8,324.5 M63.3,341.4 L67.2,341.4 M69.8,344.8 L69.8,345.6 L72.8,345.6 M77.2,346.2 L77.2,350.5 M82.5,350 L87.3,350 M89,352.4 L89,354.3 L93,354.3 M94.3,356.8 L94.3,358.7 L97.9,358.7 M101.8,357.7 L102.7,357.7 L102.7,363.5 M107,362.8 L112.3,362.8 M112.3,366.7 L117,366.7 M117.6,370.2 L118.3,370.2 L118.3,374.6 M119,379 L119,383.5 L120.5,385 M121.1,387 L124,390.5 M123,392.4 L128.8,392.4 M128.3,394 L128.3,397.2 L134.6,397.2 M136.5,400.6 L136.5,403.3 L140,403.3 M141.5,403.3 L146.6,403.3 M148.5,403.3 L154.3,403.3 M156.2,403.3 L162.3,403.3 M164.6,408.8 L164.6,410.4 L167.7,410.4 M171.5,410.4 L178,410.4 M180,410.4 L187,410.4 M189,410.4 L195,410.4 M199.2,410.4 L206.2,410.4 M204.6,414.2 L204.6,419.6 M203.8,427.3 L210.8,427.3 M212.3,427.3 L219.2,427.3 M220.8,427.3 L224.6,427.3 M228.5,427.3 L232.3,427.3" fill="none" stroke="#000" stroke-width="1.8" stroke-linejoin="miter" stroke-linecap="butt"/>
<path d="M127.4,390.2v4.4M128.3,395v4.4M132.2,395v4.4M150,401.1v4.4M158.2,401.1v4.4M174.6,408.2v4.4M177.7,408.2v4.4M182.3,408.2v4.4M184.6,408.2v4.4M188.5,408.2v4.4M203.8,408.2v4.4M204.6,425.1v4.4M207,425.1v4.4M217,425.1v4.4M230,425.1v4.4" stroke="#000" stroke-width="1.2" fill="none"/>
</svg>
</body></html>
